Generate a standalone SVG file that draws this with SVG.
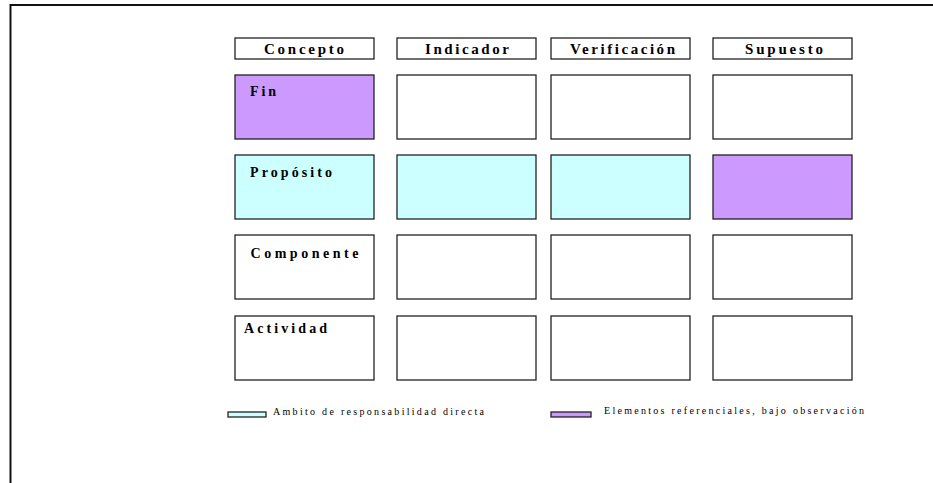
<svg xmlns="http://www.w3.org/2000/svg" width="933" height="483" viewBox="0 0 933 483">
<style>
.box{stroke:#222;stroke-width:1.3}
.w{fill:#fff}
.p{fill:#cc99ff}
.c{fill:#ccffff}
.h{font-family:"Liberation Serif",serif;font-weight:bold;font-size:15px;fill:#000}
.l{font-family:"Liberation Serif",serif;font-weight:bold;font-size:14px;fill:#000}
.g{font-family:"Liberation Serif",serif;font-size:10px;fill:#000}
</style>
<rect x="0" y="0" width="933" height="483" fill="#fff"/>
<path d="M10.5 483 V5 H933" fill="none" stroke="#111" stroke-width="2"/>
<g id="hdr-concepto"><rect class="box w" x="235" y="38" width="139" height="21"/><text class="h" x="264" y="54" textLength="80" lengthAdjust="spacing">Concepto</text></g>
<g id="hdr-indicador"><rect class="box w" x="397" y="38" width="139" height="21"/><text class="h" x="425" y="54" textLength="84" lengthAdjust="spacing">Indicador</text></g>
<g id="hdr-verificacion"><rect class="box w" x="551" y="38" width="139" height="21"/><text class="h" x="570" y="54" textLength="105" lengthAdjust="spacing">Verificación</text></g>
<g id="hdr-supuesto"><rect class="box w" x="713" y="38" width="139" height="21"/><text class="h" x="745" y="54" textLength="78" lengthAdjust="spacing">Supuesto</text></g>

<g id="fin"><rect class="box p" x="235" y="75" width="139" height="64"/><text class="l" x="250" y="95.5" textLength="26" lengthAdjust="spacing">Fin</text></g>
<g id="fin-indicador"><rect class="box w" x="397" y="75" width="139" height="64"/></g>
<g id="fin-verificacion"><rect class="box w" x="551" y="75" width="139" height="64"/></g>
<g id="fin-supuesto"><rect class="box w" x="713" y="75" width="139" height="64"/></g>

<g id="proposito"><rect class="box c" x="235" y="155" width="139" height="64"/><text class="l" x="250" y="177" textLength="82" lengthAdjust="spacing">Propósito</text></g>
<g id="proposito-indicador"><rect class="box c" x="397" y="155" width="139" height="64"/></g>
<g id="proposito-verificacion"><rect class="box c" x="551" y="155" width="139" height="64"/></g>
<g id="proposito-supuesto"><rect class="box p" x="713" y="155" width="139" height="64"/></g>

<g id="componente"><rect class="box w" x="235" y="235" width="139" height="64"/><text class="l" x="250.5" y="257.5" textLength="108" lengthAdjust="spacing">Componente</text></g>
<g id="componente-indicador"><rect class="box w" x="397" y="235" width="139" height="64"/></g>
<g id="componente-verificacion"><rect class="box w" x="551" y="235" width="139" height="64"/></g>
<g id="componente-supuesto"><rect class="box w" x="713" y="235" width="139" height="64"/></g>

<g id="actividad"><rect class="box w" x="235" y="316" width="139" height="64"/><text class="l" x="244" y="332.5" textLength="83" lengthAdjust="spacing">Actividad</text></g>
<g id="actividad-indicador"><rect class="box w" x="397" y="316" width="139" height="64"/></g>
<g id="actividad-verificacion"><rect class="box w" x="551" y="316" width="139" height="64"/></g>
<g id="actividad-supuesto"><rect class="box w" x="713" y="316" width="139" height="64"/></g>

<g id="legend-directa"><rect class="box c" x="228" y="412" width="38" height="5"/><text class="g" x="273" y="415" textLength="211" lengthAdjust="spacing">Ambito de responsabilidad directa</text></g>
<g id="legend-referenciales"><rect class="box p" x="551" y="412" width="40" height="5"/><text class="g" x="604" y="414" textLength="260" lengthAdjust="spacing">Elementos referenciales, bajo observación</text></g>
</svg>
